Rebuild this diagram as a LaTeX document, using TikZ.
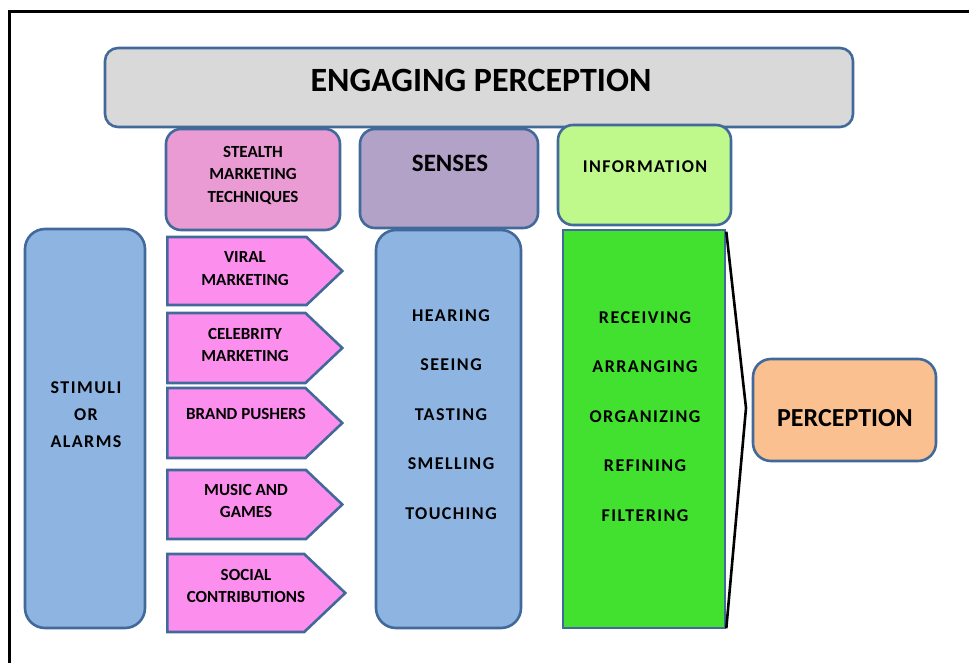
\documentclass[tikz,border=0pt]{standalone}
\usepackage{fontspec}
\setmainfont{Carlito}
\usetikzlibrary{shapes.symbols}
\definecolor{edge}{HTML}{41699A}
\definecolor{greyfill}{HTML}{D9D9D9}
\definecolor{stealthfill}{HTML}{EA9BD4}
\definecolor{sensefill}{HTML}{B2A2C8}
\definecolor{infofill}{HTML}{C0F98B}
\definecolor{bluefill}{HTML}{8EB4E2}
\definecolor{arrowfill}{HTML}{FC8FEE}
\definecolor{greenfill}{HTML}{42E02F}
\definecolor{peachfill}{HTML}{FAC090}
\newfontfamily\spaced[LetterSpace=8]{Carlito}
\begin{document}
\begin{tikzpicture}[x=1pt,y=-1pt,
  box/.style={draw=edge, line width=2.6pt, inner sep=0pt},
  rbox/.style={box, rounded corners=#1},
  rbox/.default=14pt,
  tag/.style={box, shape=signal, signal to=east, signal pointer angle=87, fill=arrowfill, anchor=west},
  lbl/.style={align=center, inner sep=0pt, text=black},
  small/.style={lbl, font=\bfseries\fontsize{17}{22.5}\selectfont},
  wide/.style={lbl, font=\spaced\bfseries\fontsize{18}{#1}\selectfont},
  wide/.default=27]
\useasboundingbox (0,0) rectangle (969,663);
% outer frame
\draw[line width=3pt] (9,663) -- (9,12) -- (969,12);

% title bar and column heads
\node[rbox=13pt, fill=greyfill, minimum width=748pt, minimum height=79pt] (title) at (479,87.5) {};
\node[lbl, font=\bfseries\fontsize{34}{40}\selectfont] (titletext) at (481,80) {ENGAGING PERCEPTION};

\node[rbox=15pt, fill=stealthfill, minimum width=174pt, minimum height=101pt] (stealth) at (253,179.5) {};
\node[small] (stealthtext) at (253,175) {STEALTH\\MARKETING\\TECHNIQUES};

\node[rbox=15pt, fill=sensefill, minimum width=178pt, minimum height=99pt] (senses) at (449,178.5) {};
\node[lbl, font=\bfseries\fontsize{25}{30}\selectfont] (sensestext) at (450,163) {SENSES};

\node[rbox=15pt, fill=infofill, minimum width=173pt, minimum height=100pt] (info) at (644.5,175) {};
\node[wide] (infotext) at (645,167) {INFORMATION};

% stimuli column
\node[rbox=20pt, fill=bluefill, minimum width=120pt, minimum height=399pt] (stimuli) at (85,428.5) {};
\node[wide] (stimulitext) at (86,415) {STIMULI\\OR\\ALARMS};

% stealth marketing tags
\node[tag, minimum width=175pt, minimum height=68pt] (viral) at (166,271) {};
\node[small] (viraltext) at (245,268.5) {VIRAL\\MARKETING};
\node[tag, minimum width=175pt, minimum height=70pt] (celeb) at (166,348) {};
\node[small] (celebtext) at (245,345) {CELEBRITY\\MARKETING};
\node[tag, minimum width=175pt, minimum height=70pt] (brand) at (166,423) {};
\node[small] (brandtext) at (246,414) {BRAND PUSHERS};
\node[tag, minimum width=175pt, minimum height=69pt] (music) at (166,504.5) {};
\node[small] (musictext) at (246,501) {MUSIC AND\\GAMES};
\node[tag, minimum width=178pt, minimum height=78pt] (social) at (166,593) {};
\node[small] (socialtext) at (246,586) {SOCIAL\\CONTRIBUTIONS};

% senses column
\node[rbox=20pt, fill=bluefill, minimum width=145pt, minimum height=398pt] (sensecol) at (448.5,429) {};
\node[wide=49.5] (sensecoltext) at (451,414.5)
  {HEARING\\SEEING\\TASTING\\SMELLING\\TOUCHING};

% information processing column
\node[box, fill=greenfill, minimum width=162pt, minimum height=398pt] (process) at (644,429) {};
\node[wide=49.5] (processtext) at (645,416.5)
  {RECEIVING\\ARRANGING\\ORGANIZING\\REFINING\\FILTERING};

% bracket joining the processing steps to perception
\coordinate (tip) at (746,408);
\draw[line width=2.6pt, line join=miter] ([yshift=-3pt]process.north east) -- (tip) -- ([yshift=1pt]process.south east);

\node[rbox=18pt, fill=peachfill, minimum width=183pt, minimum height=102pt] (perception) at (844.5,410) {};
\node[lbl, font=\bfseries\fontsize{26}{30}\selectfont] (perceptiontext) at (845,418) {PERCEPTION};
\end{tikzpicture}
\end{document}
